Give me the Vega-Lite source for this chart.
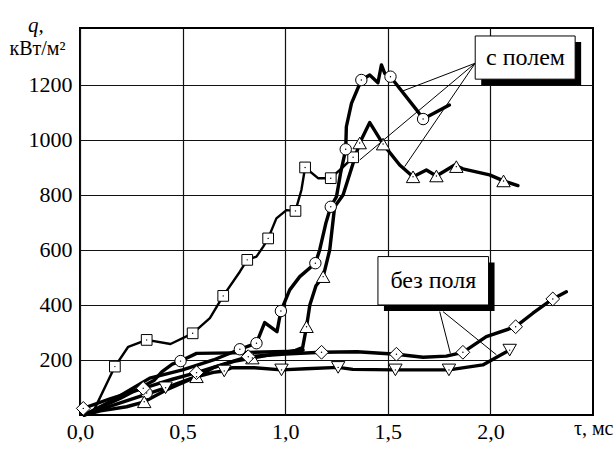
{
  "$schema": "https://vega.github.io/schema/vega-lite/v6.json",
  "width": 513,
  "height": 387,
  "autosize": "none",
  "padding": {"left": 80, "top": 28, "right": 22, "bottom": 35},
  "background": "white",
  "config": {
    "view": {"stroke": "black", "strokeWidth": 2},
    "font": "Liberation Serif",
    "axis": {"labelFont": "Liberation Serif", "titleFont": "Liberation Serif", "labelColor": "black", "titleColor": "black", "gridColor": "#111", "gridWidth": 1.2, "gridOpacity": 1, "ticks": false, "domain": false, "titleFontWeight": "normal"}
  },
  "title": {"text": "q,", "anchor": "start", "frame": "group", "dx": -52, "dy": 25, "offset": 0, "baseline": "alphabetic", "fontStyle": "italic", "fontWeight": "normal", "fontSize": 21, "font": "Liberation Serif", "color": "black"},
  "datasets": {
    "curves": [
      {"s": "S", "x": 0.06, "y": 5}, {"s": "S", "x": 0.17, "y": 176}, {"s": "S", "x": 0.235, "y": 248}, {"s": "S", "x": 0.325, "y": 273}, {"s": "S", "x": 0.441, "y": 258}, {"s": "S", "x": 0.549, "y": 297}, {"s": "S", "x": 0.633, "y": 352}, {"s": "S", "x": 0.698, "y": 433}, {"s": "S", "x": 0.779, "y": 521}, {"s": "S", "x": 0.815, "y": 564}, {"s": "S", "x": 0.86, "y": 576}, {"s": "S", "x": 0.893, "y": 612}, {"s": "S", "x": 0.917, "y": 642}, {"s": "S", "x": 0.957, "y": 715}, {"s": "S", "x": 1.006, "y": 745}, {"s": "S", "x": 1.05, "y": 742}, {"s": "S", "x": 1.079, "y": 818}, {"s": "S", "x": 1.097, "y": 900}, {"s": "S", "x": 1.16, "y": 861}, {"s": "S", "x": 1.222, "y": 861}, {"s": "S", "x": 1.28, "y": 900}, {"s": "S", "x": 1.331, "y": 937},
      {"s": "C", "x": 0.02, "y": 0}, {"s": "C", "x": 0.15, "y": 50}, {"s": "C", "x": 0.34, "y": 134}, {"s": "C", "x": 0.5, "y": 164}, {"s": "C", "x": 0.65, "y": 200}, {"s": "C", "x": 0.779, "y": 239}, {"s": "C", "x": 0.86, "y": 261}, {"s": "C", "x": 0.9, "y": 336}, {"s": "C", "x": 0.96, "y": 303}, {"s": "C", "x": 0.979, "y": 378}, {"s": "C", "x": 1.022, "y": 455}, {"s": "C", "x": 1.071, "y": 503}, {"s": "C", "x": 1.147, "y": 552}, {"s": "C", "x": 1.168, "y": 600}, {"s": "C", "x": 1.198, "y": 697}, {"s": "C", "x": 1.222, "y": 757}, {"s": "C", "x": 1.25, "y": 794}, {"s": "C", "x": 1.27, "y": 880}, {"s": "C", "x": 1.295, "y": 966}, {"s": "C", "x": 1.298, "y": 1048}, {"s": "C", "x": 1.323, "y": 1133}, {"s": "C", "x": 1.371, "y": 1218}, {"s": "C", "x": 1.412, "y": 1236}, {"s": "C", "x": 1.452, "y": 1208}, {"s": "C", "x": 1.469, "y": 1273}, {"s": "C", "x": 1.485, "y": 1242}, {"s": "C", "x": 1.513, "y": 1230}, {"s": "C", "x": 1.647, "y": 1103}, {"s": "C", "x": 1.672, "y": 1076}, {"s": "C", "x": 1.8, "y": 1127},
      {"s": "X", "x": 0.02, "y": 0}, {"s": "X", "x": 0.2, "y": 62}, {"s": "X", "x": 0.36, "y": 125}, {"s": "X", "x": 0.4, "y": 158}, {"s": "X", "x": 0.45, "y": 185}, {"s": "X", "x": 0.49, "y": 196}, {"s": "X", "x": 0.568, "y": 224}, {"s": "X", "x": 0.745, "y": 226}, {"s": "X", "x": 0.95, "y": 230}, {"s": "X", "x": 1.07, "y": 232}, {"s": "X", "x": 1.087, "y": 236},
      {"s": "T", "x": 0.02, "y": 0}, {"s": "T", "x": 0.1, "y": 15}, {"s": "T", "x": 0.227, "y": 30}, {"s": "T", "x": 0.313, "y": 48}, {"s": "T", "x": 0.42, "y": 91}, {"s": "T", "x": 0.495, "y": 116}, {"s": "T", "x": 0.568, "y": 139}, {"s": "T", "x": 0.65, "y": 172}, {"s": "T", "x": 0.75, "y": 195}, {"s": "T", "x": 0.84, "y": 207}, {"s": "T", "x": 0.95, "y": 222}, {"s": "T", "x": 1.05, "y": 235}, {"s": "T", "x": 1.085, "y": 245}, {"s": "T", "x": 1.104, "y": 321}, {"s": "T", "x": 1.12, "y": 400}, {"s": "T", "x": 1.15, "y": 470}, {"s": "T", "x": 1.185, "y": 503}, {"s": "T", "x": 1.217, "y": 600}, {"s": "T", "x": 1.241, "y": 757}, {"s": "T", "x": 1.282, "y": 800}, {"s": "T", "x": 1.331, "y": 915}, {"s": "T", "x": 1.363, "y": 989}, {"s": "T", "x": 1.412, "y": 1063}, {"s": "T", "x": 1.477, "y": 985}, {"s": "T", "x": 1.558, "y": 909}, {"s": "T", "x": 1.623, "y": 866}, {"s": "T", "x": 1.688, "y": 891}, {"s": "T", "x": 1.737, "y": 869}, {"s": "T", "x": 1.826, "y": 909}, {"s": "T", "x": 1.866, "y": 895}, {"s": "T", "x": 1.996, "y": 873}, {"s": "T", "x": 2.064, "y": 851}, {"s": "T", "x": 2.134, "y": 834},
      {"s": "D", "x": 0.016, "y": 24}, {"s": "D", "x": 0.15, "y": 60}, {"s": "D", "x": 0.308, "y": 97}, {"s": "D", "x": 0.45, "y": 130}, {"s": "D", "x": 0.568, "y": 154}, {"s": "D", "x": 0.7, "y": 185}, {"s": "D", "x": 0.82, "y": 212}, {"s": "D", "x": 1.0, "y": 222}, {"s": "D", "x": 1.177, "y": 228}, {"s": "D", "x": 1.35, "y": 230}, {"s": "D", "x": 1.542, "y": 221}, {"s": "D", "x": 1.672, "y": 210}, {"s": "D", "x": 1.785, "y": 214}, {"s": "D", "x": 1.866, "y": 228}, {"s": "D", "x": 1.98, "y": 285}, {"s": "D", "x": 2.123, "y": 321}, {"s": "D", "x": 2.207, "y": 370}, {"s": "D", "x": 2.304, "y": 422}, {"s": "D", "x": 2.37, "y": 448},
      {"s": "V", "x": 0.02, "y": 0}, {"s": "V", "x": 0.2, "y": 45}, {"s": "V", "x": 0.417, "y": 99}, {"s": "V", "x": 0.55, "y": 135}, {"s": "V", "x": 0.65, "y": 155}, {"s": "V", "x": 0.703, "y": 160}, {"s": "V", "x": 0.74, "y": 172}, {"s": "V", "x": 0.85, "y": 172}, {"s": "V", "x": 0.982, "y": 164}, {"s": "V", "x": 1.1, "y": 168}, {"s": "V", "x": 1.258, "y": 173}, {"s": "V", "x": 1.33, "y": 166}, {"s": "V", "x": 1.537, "y": 164}, {"s": "V", "x": 1.798, "y": 164}, {"s": "V", "x": 1.963, "y": 182}, {"s": "V", "x": 2.094, "y": 236}
    ],
    "markers": [
      {"m": "square", "x": 0.17, "y": 176}, {"m": "square", "x": 0.325, "y": 273}, {"m": "square", "x": 0.549, "y": 297}, {"m": "square", "x": 0.698, "y": 433}, {"m": "square", "x": 0.815, "y": 564}, {"m": "square", "x": 0.917, "y": 642}, {"m": "square", "x": 1.05, "y": 742}, {"m": "square", "x": 1.097, "y": 900}, {"m": "square", "x": 1.222, "y": 861}, {"m": "square", "x": 1.331, "y": 937},
      {"m": "circle", "x": 0.325, "y": 80}, {"m": "circle", "x": 0.49, "y": 196}, {"m": "circle", "x": 0.779, "y": 239}, {"m": "circle", "x": 0.86, "y": 261}, {"m": "circle", "x": 0.979, "y": 378}, {"m": "circle", "x": 1.147, "y": 552}, {"m": "circle", "x": 1.222, "y": 757}, {"m": "circle", "x": 1.295, "y": 966}, {"m": "circle", "x": 1.371, "y": 1218}, {"m": "circle", "x": 1.513, "y": 1230}, {"m": "circle", "x": 1.672, "y": 1076},
      {"m": "triangle-up", "x": 0.313, "y": 48}, {"m": "triangle-up", "x": 0.568, "y": 139}, {"m": "triangle-up", "x": 0.84, "y": 207}, {"m": "triangle-up", "x": 1.104, "y": 321}, {"m": "triangle-up", "x": 1.185, "y": 503}, {"m": "triangle-up", "x": 1.363, "y": 989}, {"m": "triangle-up", "x": 1.477, "y": 985}, {"m": "triangle-up", "x": 1.623, "y": 866}, {"m": "triangle-up", "x": 1.737, "y": 869}, {"m": "triangle-up", "x": 1.834, "y": 903}, {"m": "triangle-up", "x": 2.064, "y": 851},
      {"m": "diamond", "x": 0.016, "y": 24}, {"m": "diamond", "x": 0.308, "y": 97}, {"m": "diamond", "x": 0.568, "y": 154}, {"m": "diamond", "x": 0.82, "y": 212}, {"m": "diamond", "x": 1.177, "y": 228}, {"m": "diamond", "x": 1.542, "y": 221}, {"m": "diamond", "x": 1.866, "y": 228}, {"m": "diamond", "x": 2.123, "y": 321}, {"m": "diamond", "x": 2.304, "y": 422},
      {"m": "triangle-down", "x": 0.417, "y": 99}, {"m": "triangle-down", "x": 0.703, "y": 160}, {"m": "triangle-down", "x": 0.982, "y": 164}, {"m": "triangle-down", "x": 1.258, "y": 173}, {"m": "triangle-down", "x": 1.537, "y": 164}, {"m": "triangle-down", "x": 1.798, "y": 164}, {"m": "triangle-down", "x": 2.094, "y": 236}
    ],
    "leaders": [
      {"x": 1.926, "y": 1279, "x2": 1.566, "y2": 1176},
      {"x": 1.926, "y": 1279, "x2": 1.363, "y2": 927},
      {"x": 1.926, "y": 1279, "x2": 1.582, "y2": 903},
      {"x": 1.753, "y": 376, "x2": 1.805, "y2": 224},
      {"x": 1.769, "y": 376, "x2": 2.029, "y2": 219}
    ],
    "boxes": [
      {"x": 1.926, "x2": 2.413, "y": 1378, "y2": 1221},
      {"x": 1.452, "x2": 1.991, "y": 576, "y2": 400}
    ],
    "labels": [
      {"x": 2.171, "y": 1298, "text": "с полем"},
      {"x": 1.722, "y": 487, "text": "без поля"}
    ]
  },
  "layer": [
    {
      "data": {"name": "curves"},
      "transform": [{"filter": "datum.s !== 'S'"}],
      "mark": {"type": "line", "color": "black", "strokeWidth": 3.4, "strokeJoin": "round", "strokeCap": "round"},
      "encoding": {
        "x": {"field": "x", "type": "quantitative", "scale": {"domain": [0, 2.5], "nice": false, "zero": false},
          "axis": {"values": [0, 0.5, 1, 1.5, 2], "labelExpr": "replace(format(datum.value, '.1f'), '.', ',')", "grid": true, "labelFontSize": 22, "labelPadding": 6, "labelFlush": false,
            "title": "τ, мс", "titleX": 533, "titleY": 19, "titleAlign": "right", "titleBaseline": "alphabetic", "titleFontSize": 20}},
        "y": {"field": "y", "type": "quantitative", "scale": {"domain": [0, 1407], "nice": false, "zero": false},
          "axis": {"values": [200, 400, 600, 800, 1000, 1200], "format": "d", "grid": true, "labelFontSize": 22, "labelPadding": 8,
            "title": "кВт/м²", "titleAngle": 0, "titleX": -71, "titleY": 26, "titleAlign": "left", "titleBaseline": "alphabetic", "titleFontSize": 20}},
        "detail": {"field": "s", "type": "nominal"}
      }
    },
    {
      "data": {"name": "curves"},
      "transform": [{"filter": "datum.s === 'S'"}],
      "mark": {"type": "line", "color": "black", "strokeWidth": 2.4, "strokeJoin": "round"},
      "encoding": {
        "x": {"field": "x", "type": "quantitative"},
        "y": {"field": "y", "type": "quantitative"}
      }
    },
    {
      "data": {"name": "markers"},
      "transform": [{"filter": "datum.m === 'square'"}],
      "mark": {"type": "point", "shape": "square", "size": 115, "filled": true, "fill": "white", "stroke": "black", "strokeWidth": 1, "opacity": 1},
      "encoding": {"x": {"field": "x", "type": "quantitative"}, "y": {"field": "y", "type": "quantitative"}}
    },
    {
      "data": {"name": "markers"},
      "transform": [{"filter": "datum.m === 'circle'"}],
      "mark": {"type": "point", "shape": "circle", "size": 130, "filled": true, "fill": "white", "stroke": "black", "strokeWidth": 1, "opacity": 1},
      "encoding": {"x": {"field": "x", "type": "quantitative"}, "y": {"field": "y", "type": "quantitative"}}
    },
    {
      "data": {"name": "markers"},
      "transform": [{"filter": "datum.m === 'triangle-up'"}],
      "mark": {"type": "point", "shape": "triangle-up", "size": 180, "filled": true, "fill": "white", "stroke": "black", "strokeWidth": 1, "opacity": 1},
      "encoding": {"x": {"field": "x", "type": "quantitative"}, "y": {"field": "y", "type": "quantitative"}}
    },
    {
      "data": {"name": "markers"},
      "transform": [{"filter": "datum.m === 'diamond'"}],
      "mark": {"type": "point", "shape": "diamond", "size": 190, "filled": true, "fill": "white", "stroke": "black", "strokeWidth": 1, "opacity": 1},
      "encoding": {"x": {"field": "x", "type": "quantitative"}, "y": {"field": "y", "type": "quantitative"}}
    },
    {
      "data": {"name": "markers"},
      "transform": [{"filter": "datum.m === 'triangle-down'"}],
      "mark": {"type": "point", "shape": "triangle-down", "size": 180, "filled": true, "fill": "white", "stroke": "black", "strokeWidth": 1, "opacity": 1},
      "encoding": {"x": {"field": "x", "type": "quantitative"}, "y": {"field": "y", "type": "quantitative"}}
    },
    {
      "data": {"name": "markers"},
      "mark": {"type": "point", "shape": "circle", "size": 2, "filled": true, "color": "black", "opacity": 1},
      "encoding": {"x": {"field": "x", "type": "quantitative"}, "y": {"field": "y", "type": "quantitative"}}
    },
    {
      "data": {"name": "leaders"},
      "mark": {"type": "rule", "color": "black", "strokeWidth": 1},
      "encoding": {
        "x": {"field": "x", "type": "quantitative"}, "y": {"field": "y", "type": "quantitative"},
        "x2": {"field": "x2"}, "y2": {"field": "y2"}
      }
    },
    {
      "data": {"name": "boxes"},
      "mark": {"type": "rect", "color": "black", "xOffset": 6, "x2Offset": 6, "yOffset": 6, "y2Offset": 6},
      "encoding": {
        "x": {"field": "x", "type": "quantitative"}, "x2": {"field": "x2"},
        "y": {"field": "y", "type": "quantitative"}, "y2": {"field": "y2"}
      }
    },
    {
      "data": {"name": "boxes"},
      "mark": {"type": "rect", "fill": "white", "stroke": "black", "strokeWidth": 1},
      "encoding": {
        "x": {"field": "x", "type": "quantitative"}, "x2": {"field": "x2"},
        "y": {"field": "y", "type": "quantitative"}, "y2": {"field": "y2"}
      }
    },
    {
      "data": {"name": "labels"},
      "mark": {"type": "text", "font": "Liberation Serif", "fontSize": 24, "color": "black", "align": "center", "baseline": "middle"},
      "encoding": {
        "x": {"field": "x", "type": "quantitative"}, "y": {"field": "y", "type": "quantitative"},
        "text": {"field": "text", "type": "nominal"}
      }
    }
  ]
}
